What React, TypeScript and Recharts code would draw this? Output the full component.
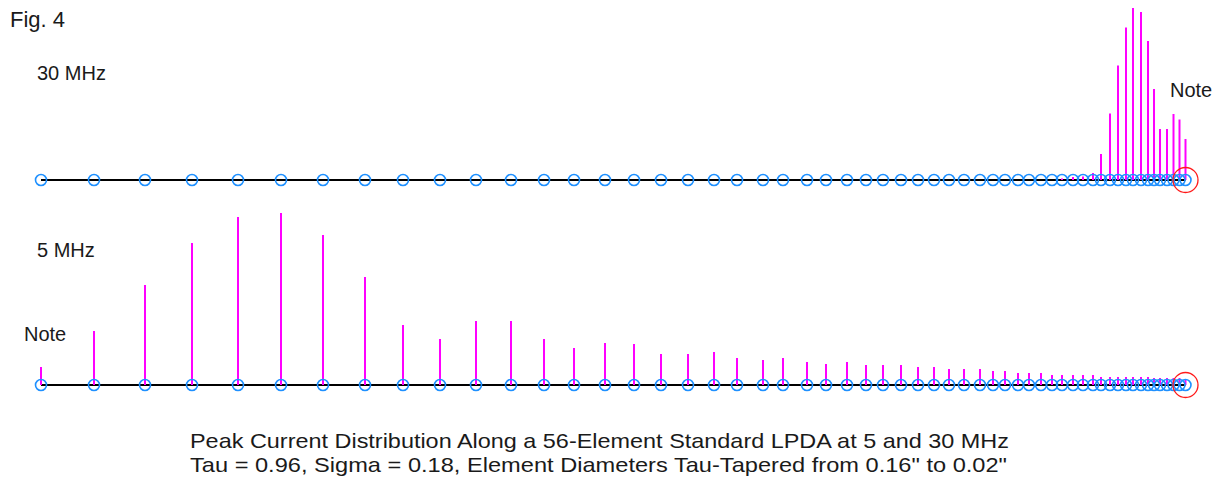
import React from 'react';
import { ComposedChart, Scatter, XAxis, YAxis, ReferenceLine } from 'recharts';

// Element positions along the boom (arbitrary length units)
const elementPos = [
  41, 94, 145, 192, 238, 281, 323, 365, 403, 440,
  476, 511, 544, 574, 605, 634, 661, 688, 714, 737,
  763, 783, 807, 826, 847, 866, 883, 901, 918, 934,
  949, 964, 980, 993, 1005, 1018, 1029, 1041, 1052, 1062,
  1073, 1083, 1093, 1101, 1110, 1118, 1126, 1133, 1141, 1148,
  1154, 1160, 1167, 1173.5, 1179.5, 1185.5,
];

// Relative peak current at 30 MHz
const current30 = [
  0, 0, 0, 0, 0, 0, 0, 0, 0, 0,
  0, 0, 0, 0, 0, 0, 0, 0, 0, 0,
  0, 0, 0, 0, 0, 0, 0, 0, 0, 0,
  0, 0, 0, 0, 0, 0, 0, 0, 0, 1.5,
  3, 3.5, 7, 26, 66.5, 114.5, 152.5, 172, 168, 139,
  91, 51, 51, 66, 60.5, 41,
];

// Relative peak current at 5 MHz
const current5 = [
  18, 54, 100, 142, 168, 172, 150, 108, 60, 46,
  64, 64, 46, 37, 42, 41, 31, 31, 33, 27,
  25, 27, 23, 21, 23, 20, 20, 20, 18, 18,
  16, 16, 16, 14, 14, 12, 12, 12, 10, 10,
  10, 10, 10, 8, 8, 8, 8, 8, 8, 8,
  7, 7, 7, 7, 7, 6,
];

const figLabel = 'Fig. 4';
const bandLabels = ['30 MHz', '5 MHz'];
const noteLabel = 'Note';
const captionLines = [
  'Peak Current Distribution Along a 56-Element Standard LPDA at 5 and 30 MHz',
  'Tau = 0.96, Sigma = 0.18, Element Diameters Tau-Tapered from 0.16" to 0.02"',
];

const W = 1220;
const FONT = '"Liberation Sans", Arial, sans-serif';
const BLUE = '#1e90ff';
const MAGENTA = '#ff00ff';

function Row({ values, top }: { values: number[]; top: number }) {
  const pts = elementPos.map((x, i) => ({ x, y: 0, v: values[i] }));
  const last = [{ x: elementPos[elementPos.length - 1], y: 0 }];
  return (
    <div style={{ position: 'absolute', left: 0, top }}>
      <ComposedChart width={W} height={200} margin={{ top: 0, right: 0, bottom: 0, left: 0 }}>
        <XAxis type="number" dataKey="x" domain={[0, W]} hide allowDataOverflow />
        <YAxis type="number" dataKey="y" domain={[-20, 180]} hide allowDataOverflow />
        <ReferenceLine
          segment={[{ x: elementPos[0], y: 0 }, { x: elementPos[elementPos.length - 1], y: 0 }]}
          stroke="#000"
          strokeWidth={2}
        />
        <Scatter
          data={pts}
          isAnimationActive={false}
          shape={(p: any) => (
            <circle cx={p.cx} cy={p.cy} r={5.5} fill="none" stroke={BLUE} strokeWidth={1.6} />
          )}
        />
        <Scatter
          data={last}
          isAnimationActive={false}
          shape={(p: any) => (
            <circle cx={p.cx} cy={p.cy} r={12.5} fill="none" stroke="#ff1a1a" strokeWidth={1.3} />
          )}
        />
        {pts
          .filter((d) => d.v > 0)
          .map((d, i) => (
            <ReferenceLine
              key={i}
              segment={[{ x: d.x, y: 0 }, { x: d.x, y: d.v }]}
              stroke={MAGENTA}
              strokeWidth={2}
            />
          ))}
      </ComposedChart>
    </div>
  );
}

export default function App() {
  return (
    <div style={{ position: 'absolute', left: 0, top: 0, width: W, height: 487, background: '#fff', overflow: 'hidden' }}>
      <Row values={current30} top={0} />
      <Row values={current5} top={205} />
      <svg width={W} height={487} style={{ position: 'absolute', left: 0, top: 0, pointerEvents: 'none' }}>
        <g fontFamily={FONT} fill="#1a1a1a">
          <text x={10} y={27} fontSize={22}>{figLabel}</text>
          <text x={37} y={80} fontSize={20}>{bandLabels[0]}</text>
          <text x={1170} y={97} fontSize={20}>{noteLabel}</text>
          <text x={37} y={257} fontSize={20}>{bandLabels[1]}</text>
          <text x={24} y={341} fontSize={20}>{noteLabel}</text>
          <text x={190} y={448} fontSize={21} textLength={819} lengthAdjust="spacingAndGlyphs">{captionLines[0]}</text>
          <text x={190} y={472} fontSize={21} textLength={817} lengthAdjust="spacingAndGlyphs">{captionLines[1]}</text>
        </g>
      </svg>
    </div>
  );
}
